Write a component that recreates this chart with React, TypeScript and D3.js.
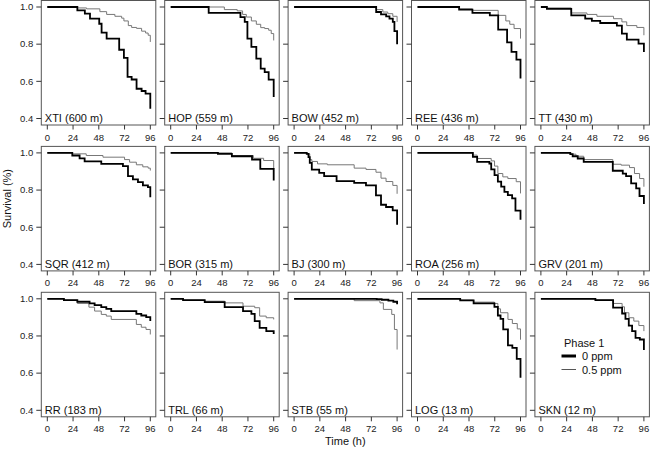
import React from "react";
import * as d3 from "d3";

// panel titles, in reading order (site + elevation)
const sites = [
  "XTI (600 m)", "HOP (559 m)", "BOW (452 m)", "REE (436 m)", "TT (430 m)",
  "SQR (412 m)", "BOR (315 m)", "BJ (300 m)", "ROA (256 m)", "GRV (201 m)",
  "RR (183 m)", "TRL (66 m)", "STB (55 m)", "LOG (13 m)", "SKN (12 m)",
];

// survival steps [hour, survival after the drop]; curves start at (0, 1)
const XTI_0 = [[28, .982], [35, .964], [39.8, .937], [48.4, .91], [50.6, .862], [55.3, .83], [67, .77], [71.4, .726], [74.8, .624], [78.6, .61], [83.2, .56], [87.9, .548], [91.6, .534], [96, .453]];
const XTI_5 = [[28, .995], [36.6, .99], [49, .975], [55.3, .96], [63, .95], [69.3, .94], [71.4, .925], [75.5, .9], [78.6, .89], [83.2, .885], [87.9, .87], [91.6, .86], [94, .848], [96, .812]];
const HOP_0 = [[35.4, .968], [65, .946], [69, .92], [71.5, .83], [75.2, .785], [79.8, .722], [83.9, .668], [87.6, .65], [91.3, .609], [96, .516]];
const HOP_5 = [[50, .986], [62, .979], [67, .96], [70.5, .946], [75.2, .925], [79.8, .907], [83.9, .889], [87.6, .884], [91.3, .875], [93.7, .857], [96, .82]];
const BOW_0 = [[76.5, .973], [81, .96], [85.8, .95], [88.9, .937], [92, .92], [93.5, .87], [96, .8]];
const BOW_5 = [[76.5, .986], [82.7, .973], [87.3, .964], [92, .95], [96, .92]];
const REE_0 = [[38.8, .986], [51.2, .968], [67.4, .955], [75.2, .878], [83.5, .81], [87.6, .758], [92.2, .717], [96, .615]];
const REE_5 = [[38.8, .99], [51.2, .982], [75.2, .955], [82.3, .925], [86, .907], [90, .884], [96, .83]];
const TT_0 = [[5.6, .99], [28.3, .955], [41.3, .937], [47.5, .925], [55.3, .914], [70.8, .9], [75.5, .857], [80.1, .824], [91, .803], [96, .758]];
const TT_5 = [[5.6, .995], [28.3, .968], [42.9, .96], [52.2, .95], [67.7, .937], [75.5, .92], [80, .9], [89.4, .89], [96, .848]];
const SQR_0 = [[23.3, .986], [30.1, .971], [34.8, .954], [50.3, .941], [70.5, .929], [75.2, .875], [79.8, .857], [84.5, .843], [89.1, .825], [93.8, .816], [96, .762]];
const SQR_5 = [[23.3, .995], [36.3, .986], [51.9, .977], [72, .964], [76.7, .95], [83, .936], [89, .925], [94, .918], [96, .905]];
const BOR_0 = [[44, .995], [57, .982], [75.8, .964], [83.5, .914], [96, .852]];
const BOR_5 = [[57, .986], [77, .971], [86.6, .959], [96, .914]];
const BJ_0 = [[11.8, .995], [13.4, .977], [14.6, .946], [16.5, .91], [23.4, .893], [28, .875], [39.6, .848], [56, .839], [67, .825], [76.3, .771], [81, .721], [85.7, .709], [91.9, .691], [96, .614]];
const BJ_5 = [[11.8, .995], [14.6, .964], [16.5, .954], [21.8, .941], [31, .936], [56, .918], [67, .911], [76.3, .896], [81, .864], [85.7, .846], [92, .825], [96, .78]];
const ROA_0 = [[51.6, .979], [55.6, .952], [67, .943], [68.7, .911], [71.8, .88], [74.9, .845], [78, .818], [81, .79], [84.2, .773], [88.2, .755], [91.3, .689], [96, .64]];
const ROA_5 = [[51.6, .988], [55.6, .97], [68.7, .957], [71.8, .929], [74.9, .889], [79.5, .871], [84.2, .862], [92, .845], [96, .782]];
const GRV_0 = [[27.4, .993], [29.6, .982], [34.3, .97], [39.9, .952], [67, .904], [76.3, .889], [79.4, .875], [84.1, .836], [88.8, .809], [91.9, .768], [96, .725]];
const GRV_5 = [[27.4, .993], [32.7, .982], [39.9, .964], [67, .939], [74.8, .934], [82.6, .921], [87.2, .889], [92, .862], [96, .818]];
const RR_0 = [[15.5, .993], [28, .984], [39.4, .975], [44.1, .966], [50.3, .955], [55, .946], [59.6, .934], [83, .919], [87.6, .91], [92.2, .901], [96, .88]];
const RR_5 = [[15.5, .993], [28, .975], [38.8, .955], [44.1, .934], [50.3, .916], [55, .907], [59.6, .889], [83, .862], [87.6, .847], [92, .835], [96, .808]];
const TRL_0 = [[11.5, .993], [31.7, .982], [50.3, .955], [67.4, .934], [75.2, .919], [78.3, .88], [82.9, .844], [89.1, .826], [96, .811]];
const TRL_5 = [[11.5, .993], [31.7, .987], [50.3, .978], [67.4, .96], [78.3, .952], [82.9, .907], [89, .898], [96, .889]];
const STB_0 = [[77, .998], [81.6, .995], [87.9, .99], [92.5, .984], [96, .97]];
const STB_5 = [[56, .99], [80, .978], [83.2, .943], [91, .916], [93.5, .835], [96, .727]];
const LOG_0 = [[39.8, .991], [52.3, .975], [71.7, .957], [74.9, .91], [77.4, .892], [79.9, .835], [84.3, .749], [88.4, .736], [92.5, .677], [96, .575]];
const LOG_5 = [[39.8, .993], [52.3, .982], [71.7, .975], [74.9, .946], [77.4, .925], [84.3, .889], [88.4, .867], [93, .838], [96, .78]];
const SKN_0 = [[50.8, .993], [67.3, .952], [75.7, .921], [78.8, .892], [81.9, .856], [85, .826], [88.2, .79], [92.2, .781], [96, .724]];
const SKN_5 = [[50.8, .993], [67.3, .975], [75.7, .957], [77.9, .925], [82, .898], [86.6, .88], [91.3, .856], [96, .826]];

const dose0 = [XTI_0, HOP_0, BOW_0, REE_0, TT_0, SQR_0, BOR_0, BJ_0, ROA_0, GRV_0, RR_0, TRL_0, STB_0, LOG_0, SKN_0];
const dose5 = [XTI_5, HOP_5, BOW_5, REE_5, TT_5, SQR_5, BOR_5, BJ_5, ROA_5, GRV_5, RR_5, TRL_5, STB_5, LOG_5, SKN_5];

const xTicks = [0, 24, 48, 72, 96];
const yTicks = [0.4, 0.6, 0.8, 1.0];
const legendLabels = ["0 ppm", "0.5 ppm"];

const W = 650;
const H = 450;
const FONT = "'Liberation Sans', Arial, Helvetica, sans-serif";

// panel geometry
const PW = 114.5;
const PH = 124.5;
const colLeft = (c: number) => 41.3 + c * 123.4;
const rowTop = (r: number) => 0.5 + r * 145.9;

const x = d3.scaleLinear().domain([0, 96]).range([6, 109]);
const y = d3.scaleLinear().domain([0.4, 1]).range([118, 6.5]);

const step = d3
  .line<number[]>()
  .x(d => x(d[0]))
  .y(d => y(d[1]))
  .curve(d3.curveStepAfter);

function Panel({ i }: { i: number }) {
  const c = i % 5;
  const r = Math.floor(i / 5);
  const left = colLeft(c);
  const top = rowTop(r);
  return (
    <g transform={`translate(${left},${top})`}>
      <rect x={0} y={0} width={PW} height={PH} fill="none" stroke="#555" strokeWidth={1} />
      <path d={step([[0, 1], ...dose5[i]]) || ""} fill="none" stroke="#777" strokeWidth={1} />
      <path d={step([[0, 1], ...dose0[i]]) || ""} fill="none" stroke="#000" strokeWidth={1.8} />
      {yTicks.map(t => (
        <g key={t}>
          <line x1={-5} x2={0} y1={y(t)} y2={y(t)} stroke="#333" />
          {c === 0 && (
            <text x={-8} y={y(t)} dy="0.35em" textAnchor="end" fontSize={9.5} fill="#222" fontFamily={FONT}>
              {t.toFixed(1)}
            </text>
          )}
        </g>
      ))}
      {xTicks.map(t => (
        <g key={t}>
          <line x1={x(t)} x2={x(t)} y1={PH} y2={PH + 4.5} stroke="#333" />
          <text x={x(t)} y={PH + 15.5} textAnchor="middle" fontSize={9.5} fill="#222" fontFamily={FONT}>
            {t}
          </text>
        </g>
      ))}
      <text x={3.5} y={PH - 3} fontSize={11} fill="#111" fontFamily={FONT}>
        {sites[i]}
      </text>
    </g>
  );
}

export default function App() {
  return (
    <svg width={W} height={H} style={{ position: "absolute", left: 0, top: 0, display: "block", background: "#fff" }}>
      {sites.map((_, i) => (
        <Panel key={i} i={i} />
      ))}
      <text
        transform={`translate(10.5,${rowTop(1) + PH / 2 - 10}) rotate(-90)`}
        textAnchor="middle"
        fontSize={11}
        fill="#111"
        fontFamily={FONT}
      >
        Survival (%)
      </text>
      <text x={colLeft(2) + PW / 2} y={445} textAnchor="middle" fontSize={11} fill="#111" fontFamily={FONT}>
        Time (h)
      </text>
      {/* legend inside the SKN panel */}
      <g fontFamily={FONT} fontSize={11} fill="#111">
        <text x={564} y={347}>Phase 1</text>
        <line x1={561.5} x2={576} y1={356} y2={356} stroke="#000" strokeWidth={3} />
        <text x={582} y={360}>{legendLabels[0]}</text>
        <line x1={561.5} x2={576} y1={369.5} y2={369.5} stroke="#555" strokeWidth={1} />
        <text x={582} y={373.5}>{legendLabels[1]}</text>
      </g>
    </svg>
  );
}
